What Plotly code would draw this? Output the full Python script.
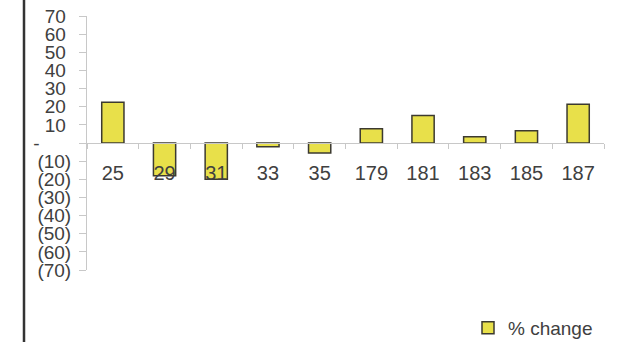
import plotly.graph_objects as go

# Data
categories = ["25", "29", "31", "33", "35", "179", "181", "183", "185", "187"]
pct_change = [22.5, -18, -20, -2, -5.5, 7.8, 15.2, 3.4, 6.7, 21.4]

y_ticks = [70, 60, 50, 40, 30, 20, 10, 0, -10, -20, -30, -40, -50, -60, -70]


def acct(v):
    # accounting-style label: negatives in parentheses, zero as a dash
    nb = "\u00a0"
    if v == 0:
        return "-" + nb * 6
    if v < 0:
        return f"({abs(v)})"
    return f"{v}" + nb


y_ticktext = [acct(v) for v in y_ticks]

W, H = 617, 342
ML, MR, MT, MB = 87, 13, 16, 72
PW, PH = W - ML - MR, H - MT - MB
FONT = "Liberation Sans, Arial, sans-serif"
TXT = "#404040"
GRID = "#c8c8c8"

fig = go.Figure(
    go.Bar(
        x=categories,
        y=pct_change,
        name="% change",
        width=0.43,
        marker=dict(color="#e8e04a", line=dict(color="#3c3a30", width=1.5)),
    )
)

fig.update_layout(
    width=W,
    height=H,
    margin=dict(l=ML, r=MR, t=MT, b=MB, autoexpand=False),
    paper_bgcolor="white",
    plot_bgcolor="white",
    font=dict(family=FONT, color=TXT),
    showlegend=True,
    legend=dict(
        x=1.0 - 6 / PW,
        y=-(328 - (MT + PH)) / PH,
        xanchor="right",
        yanchor="middle",
        font=dict(size=19, color=TXT),
        itemwidth=30,
        bgcolor="rgba(0,0,0,0)",
    ),
    xaxis=dict(
        type="category",
        anchor="free",
        position=0.5,
        showline=True,
        linecolor=GRID,
        linewidth=1,
        ticks="outside",
        tickson="boundaries",
        ticklen=5,
        tickcolor=GRID,
        showgrid=False,
        tickfont=dict(size=20, color=TXT),
        ticklabelstandoff=12,
    ),
    yaxis=dict(
        range=[-70, 70],
        tickvals=y_ticks,
        ticktext=y_ticktext,
        showline=True,
        linecolor=GRID,
        linewidth=1,
        ticks="outside",
        ticklen=7,
        tickcolor=GRID,
        showgrid=False,
        zeroline=False,
        tickfont=dict(size=19, color=TXT),
        ticklabelstandoff=4,
    ),
)

# dark frame edge on the left
fig.add_shape(
    type="line",
    xref="paper",
    yref="paper",
    x0=-(ML - 24) / PW,
    x1=-(ML - 24) / PW,
    y0=-MB / PH,
    y1=1 + MT / PH,
    line=dict(color="#333333", width=2.5),
)

fig.write_html("out.html")
